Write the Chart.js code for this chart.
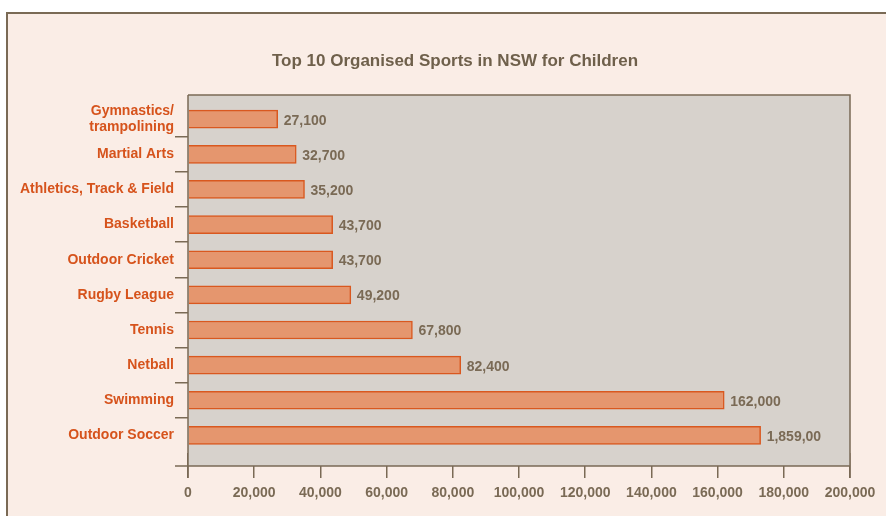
<!DOCTYPE html>
<html>
<head>
<meta charset="utf-8">
<script src="https://cdn.jsdelivr.net/npm/chart.js@4.4.1/dist/chart.umd.min.js"></script>
<style>
  html, body { margin: 0; padding: 0; background: #fff; }
  canvas { display: block; }
</style>
</head>
<body>
<canvas id="chart_sports" width="886" height="516"></canvas>
<script>
const chartTitle = 'Top 10 Organised Sports in NSW for Children';
const sports = [
  ['Gymnastics/', 'trampolining'],
  'Martial Arts',
  'Athletics, Track & Field',
  'Basketball',
  'Outdoor Cricket',
  'Rugby League',
  'Tennis',
  'Netball',
  'Swimming',
  'Outdoor Soccer'
];
const participants = [27100, 32700, 35200, 43700, 43700, 49200, 67800, 82400, 162000, 173000];
const valueLabels = ['27,100', '32,700', '35,200', '43,700', '43,700', '49,200', '67,800', '82,400', '162,000', '1,859,00'];
const xTicks = [0, 20000, 40000, 60000, 80000, 100000, 120000, 140000, 160000, 180000, 200000];

const brown = '#7a6a55';
const orange = '#d6531c';
const cream = '#faede6';
const plotGray = '#d7d2cc';
const fontFamily = '"Liberation Sans", Arial, sans-serif';

// frame, plot panel, axis lines, title and value labels
const framePlugin = {
  id: 'frame',
  beforeDraw(chart) {
    const c = chart.ctx;
    c.save();
    c.fillStyle = '#fff';
    c.fillRect(0, 0, chart.width, chart.height);
    c.fillStyle = cream;
    c.fillRect(7, 13, chart.width, chart.height);
    c.strokeStyle = brown;
    c.lineWidth = 2;
    c.beginPath();
    c.moveTo(7, chart.height + 5);
    c.lineTo(7, 13);
    c.lineTo(chart.width + 5, 13);
    c.stroke();

    c.fillStyle = '#6f604b';
    c.font = 'bold 17px ' + fontFamily;
    c.textAlign = 'center';
    c.textBaseline = 'middle';
    c.fillText(chartTitle, 455, 61);
    c.restore();
  },
  beforeDatasetsDraw(chart) {
    const a = chart.chartArea, c = chart.ctx;
    c.save();
    c.fillStyle = plotGray;
    c.fillRect(a.left, a.top - 6.5, a.right - a.left, a.bottom - a.top + 19.5);
    c.restore();
  },
  afterDatasetsDraw(chart) {
    const a = chart.chartArea, c = chart.ctx;
    c.save();
    c.strokeStyle = brown;
    c.lineWidth = 1.5;
    c.beginPath();
    c.moveTo(a.left, a.top - 6.5);
    c.lineTo(a.right, a.top - 6.5);
    c.lineTo(a.right, a.bottom + 25);
    c.moveTo(a.left, a.top - 6.5);
    c.lineTo(a.left, a.bottom + 25);
    c.moveTo(a.left - 13, a.bottom + 13);
    c.lineTo(a.right, a.bottom + 13);
    c.stroke();

    c.fillStyle = brown;
    c.font = 'bold 14px ' + fontFamily;
    c.textBaseline = 'middle';
    c.textAlign = 'left';
    chart.getDatasetMeta(0).data.forEach((bar, i) => {
      c.fillText(valueLabels[i], bar.x + 6, bar.y + 1.5);
    });
    c.restore();
  }
};

const ctx = document.getElementById('chart_sports');
const sportsChart = new Chart(ctx, {
  type: 'bar',
  data: {
    labels: sports,
    datasets: [{
      data: participants,
      backgroundColor: '#e5966e',
      borderColor: '#d9581f',
      borderWidth: 1.5,
      barThickness: 18
    }]
  },
  options: {
    indexAxis: 'y',
    responsive: false,
    animation: false,
    layout: {
      padding: { left: 0, right: 36, top: 101.6, bottom: 0 }
    },
    plugins: {
      legend: { display: false },
      tooltip: { enabled: false },
      title: { display: false }
    },
    scales: {
      x: {
        min: 0,
        max: 200000,
        afterBuildTicks: s => { s.ticks = xTicks.map(v => ({ value: v })); },
        afterFit: s => { s.height = 63; },
        border: { display: false },
        grid: { drawOnChartArea: false, tickLength: 25, color: brown, lineWidth: 1.5 },
        ticks: {
          padding: 7,
          color: brown,
          font: { family: fontFamily, size: 14, weight: 'bold' },
          callback: v => v.toLocaleString('en-US')
        }
      },
      y: {
        afterFit: s => { s.width = 188; },
        border: { display: false },
        grid: {
          offset: true,
          drawOnChartArea: false,
          tickLength: 13,
          lineWidth: 1.5,
          color: c => (c.index === undefined || c.index === 0) ? 'rgba(0,0,0,0)' : brown
        },
        ticks: {
          autoSkip: false,
          padding: 1,
          color: orange,
          font: { family: fontFamily, size: 14, weight: 'bold', lineHeight: 1.2 }
        }
      }
    }
  },
  plugins: [framePlugin]
});
</script>
</body>
</html>
